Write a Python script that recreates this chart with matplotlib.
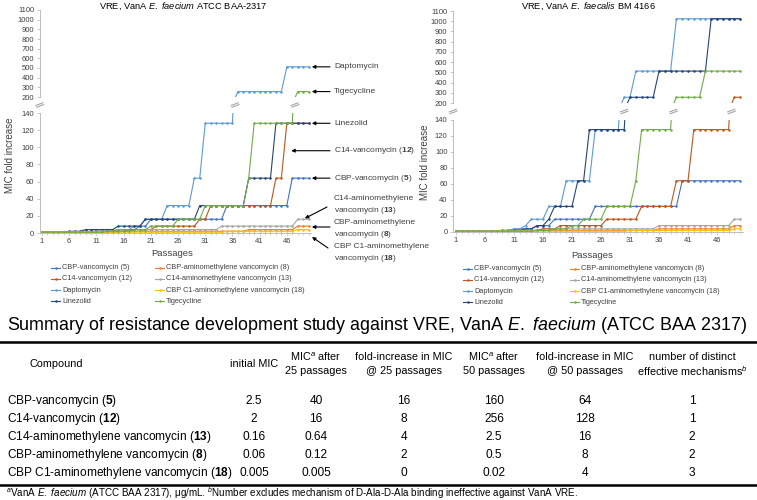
import numpy as np
import matplotlib.pyplot as plt
from matplotlib.lines import Line2D
from matplotlib.patches import FancyArrowPatch

plt.rcParams['font.family'] = ['Liberation Sans', 'DejaVu Sans']
plt.rcParams['mathtext.fontset'] = 'custom'
plt.rcParams['mathtext.rm'] = 'Liberation Sans'
plt.rcParams['mathtext.it'] = 'Liberation Sans:italic'
plt.rcParams['mathtext.bf'] = 'Liberation Sans:bold'

W, H = 757, 500

# ---- chart data ----
passages = list(range(1, 51))
tick_passages = [1, 6, 11, 16, 21, 26, 31, 36, 41, 46]
low_ticks = [0, 20, 40, 60, 80, 100, 120, 140]
up_ticks = [200, 300, 400, 500, 600, 700, 800, 900, 1000, 1100]

series_names = ['CBP-vancomycin (5)', 'C14-vancomycin (12)', 'Daptomycin', 'Linezolid',
                'CBP-aminomethylene vancomycin (8)', 'C14-aminomethylene vancomycin (13)',
                'CBP C1-aminomethylene vancomycin (18)', 'Tigecycline']
series_colors = ['#4472C4', '#C0561A', '#5B9BD5', '#264478',
                 '#ED7D31', '#A5A5A5', '#FFC000', '#70AD47']

# E. faecium ATCC BAA-2317
cbp_vanco_faecium = [1, 1, 1, 1, 1, 1, 1, 1, 1, 2,
                     2, 2, 2, 2, 4, 4, 4, 4, 8, 8,
                     16, 16, 16, 16, 16, 16, 16, 16, 16, 16,
                     16, 16, 16, 16, 32, 32, 32, 32, 32, 32,
                     32, 32, 32, 32, 32, 32, 64, 64, 64, 64]
c14_vanco_faecium = [1, 1, 1, 1, 1, 1, 1, 1, 1, 1,
                     1, 1, 2, 2, 2, 2, 4, 4, 4, 4,
                     4, 8, 8, 8, 8, 8, 8, 8, 8, 16,
                     16, 32, 32, 32, 32, 32, 32, 32, 32, 32,
                     32, 32, 32, 64, 64, 128, 128, 128, 128, 128]
dapto_faecium = [1, 1, 1, 1, 1, 1, 1, 1, 1, 1,
                 2, 2, 2, 2, 4, 4, 4, 8, 8, 16,
                 16, 16, 16, 32, 32, 32, 32, 32, 64, 64,
                 128, 128, 128, 128, 128, 128, 256, 256, 256, 256,
                 256, 256, 256, 256, 256, 512, 512, 512, 512, 512]
linezolid_faecium = [1, 1, 1, 1, 1, 2, 2, 2, 4, 4,
                     4, 4, 4, 4, 8, 8, 8, 8, 8, 16,
                     16, 16, 16, 16, 16, 16, 16, 16, 16, 32,
                     32, 32, 32, 32, 32, 32, 32, 32, 64, 64,
                     64, 64, 64, 128, 128, 128, 128, 128, 128, 128]
cbp_amino_faecium = [1, 1, 1, 1, 1, 1, 1, 1, 1, 1,
                     1, 1, 1, 1, 1, 2, 2, 2, 2, 2,
                     2, 2, 2, 2, 2, 2, 2, 2, 2, 2,
                     2, 2, 2, 2, 2, 2, 2, 2, 4, 4,
                     4, 4, 4, 4, 4, 4, 4, 8, 8, 8]
c14_amino_faecium = [1, 1, 1, 1, 1, 1, 1, 1, 1, 1,
                     2, 2, 2, 2, 2, 2, 2, 2, 2, 4,
                     4, 4, 4, 4, 4, 4, 4, 4, 4, 4,
                     4, 4, 4, 8, 8, 8, 8, 8, 8, 8,
                     8, 8, 8, 8, 8, 8, 8, 16, 16, 16]
cbp_c1_faecium = [1, 1, 1, 1, 1, 1, 1, 1, 1, 1,
                  1, 1, 1, 1, 1, 1, 1, 1, 1, 1,
                  1, 1, 1, 1, 1, 1, 1, 1, 1, 1,
                  1, 1, 1, 1, 2, 2, 2, 2, 2, 2,
                  2, 2, 2, 2, 2, 2, 2, 4, 4, 4]
tige_faecium = [1, 1, 1, 1, 1, 1, 1, 1, 1, 1,
                1, 1, 2, 2, 2, 2, 2, 4, 4, 4,
                8, 8, 8, 8, 8, 16, 16, 16, 16, 16,
                32, 32, 32, 32, 32, 32, 32, 32, 64, 128,
                128, 128, 128, 128, 128, 128, 128, 256, 256, 256]

# E. faecalis BM 4166
cbp_vanco_faecalis = [1, 1, 1, 1, 1, 1, 1, 1, 2, 2,
                      2, 4, 4, 4, 8, 8, 8, 16, 16, 16,
                      16, 16, 16, 16, 32, 32, 32, 32, 32, 32,
                      32, 32, 32, 32, 32, 32, 32, 32, 32, 64,
                      64, 64, 64, 64, 64, 64, 64, 64, 64, 64]
c14_vanco_faecalis = [1, 1, 1, 1, 1, 1, 1, 1, 1, 1,
                      1, 1, 2, 2, 2, 4, 4, 4, 8, 8,
                      8, 8, 8, 8, 8, 8, 16, 16, 16, 16,
                      16, 16, 32, 32, 32, 32, 32, 32, 64, 64,
                      64, 128, 128, 128, 128, 128, 128, 128, 256, 256]
dapto_faecalis = [1, 1, 1, 1, 1, 1, 1, 1, 2, 2,
                  4, 4, 8, 16, 16, 16, 32, 32, 32, 64,
                  64, 64, 64, 64, 128, 128, 128, 128, 128, 256,
                  256, 512, 512, 512, 512, 512, 512, 512, 1024, 1024,
                  1024, 1024, 1024, 1024, 1024, 1024, 1024, 1024, 1024, 1024]
linezolid_faecalis = [1, 1, 1, 1, 1, 1, 1, 1, 1, 1,
                      2, 2, 4, 4, 8, 8, 16, 32, 32, 32,
                      32, 64, 64, 128, 128, 128, 128, 128, 128, 128,
                      256, 256, 256, 256, 256, 512, 512, 512, 512, 512,
                      512, 512, 512, 512, 1024, 1024, 1024, 1024, 1024, 1024]
cbp_amino_faecalis = [1, 1, 1, 1, 1, 1, 1, 1, 1, 1,
                      1, 1, 1, 1, 2, 2, 2, 2, 2, 2,
                      2, 2, 2, 2, 2, 2, 2, 2, 2, 2,
                      2, 2, 2, 2, 2, 4, 4, 4, 4, 4,
                      4, 4, 4, 4, 4, 4, 4, 4, 8, 8]
c14_amino_faecalis = [1, 1, 1, 1, 1, 1, 1, 1, 1, 1,
                      1, 2, 2, 2, 2, 2, 2, 4, 4, 4,
                      4, 4, 4, 4, 4, 4, 4, 4, 4, 4,
                      4, 4, 4, 4, 4, 8, 8, 8, 8, 8,
                      8, 8, 8, 8, 8, 8, 8, 8, 16, 16]
cbp_c1_faecalis = [1, 1, 1, 1, 1, 1, 1, 1, 1, 1,
                   1, 1, 1, 1, 1, 1, 1, 1, 1, 1,
                   1, 1, 1, 1, 1, 1, 1, 1, 1, 1,
                   2, 2, 2, 2, 2, 2, 2, 2, 2, 2,
                   2, 2, 2, 2, 2, 2, 2, 2, 4, 4]
tige_faecalis = [1, 1, 1, 1, 1, 1, 1, 1, 1, 1,
                 1, 1, 1, 1, 2, 2, 2, 4, 4, 4,
                 8, 8, 16, 16, 16, 16, 32, 32, 32, 32,
                 32, 64, 128, 128, 128, 128, 128, 128, 256, 256,
                 256, 256, 256, 512, 512, 512, 512, 512, 512, 512]

faecium_series = [cbp_vanco_faecium, c14_vanco_faecium, dapto_faecium, linezolid_faecium,
                  cbp_amino_faecium, c14_amino_faecium, cbp_c1_faecium, tige_faecium]
faecalis_series = [cbp_vanco_faecalis, c14_vanco_faecalis, dapto_faecalis, linezolid_faecalis,
                   cbp_amino_faecalis, c14_amino_faecalis, cbp_c1_faecalis, tige_faecalis]

# ---- table data ----
compound_names = ['CBP-vancomycin', 'C14-vancomycin', 'C14-aminomethylene vancomycin',
                  'CBP-aminomethylene vancomycin', 'CBP C1-aminomethylene vancomycin']
compound_ids = ['5', '12', '13', '8', '18']
initial_mic = ['2.5', '2', '0.16', '0.06', '0.005']
mic_25 = ['40', '16', '0.64', '0.12', '0.005']
fold_25 = ['16', '8', '4', '2', '0']
mic_50 = ['160', '256', '2.5', '0.5', '0.02']
fold_50 = ['64', '128', '16', '8', '4']
mechanisms = ['1', '1', '2', '2', '3']
table_headers = ['initial MIC', 'MIC$^a$ after\n25 passages', 'fold-increase in MIC\n@ 25 passages',
                 'MIC$^a$ after\n50 passages', 'fold-increase in MIC\n@ 50 passages',
                 'number of distinct\neffective mechanisms$^b$']

axis_grey = '#bfbfbf'
text_grey = '#404040'

fig = plt.figure(figsize=(W / 100, H / 100), dpi=100)


def fpt(x, y):
    # pixel position (top-left origin) -> figure fraction
    return x / W, 1 - y / H


def add_axes_px(left, right, top, bottom):
    return fig.add_axes([left / W, 1 - bottom / H, (right - left) / W, (bottom - top) / H])


def to_fig(ax, x, y):
    return fig.transFigure.inverted().transform(ax.transData.transform((x, y)))


def draw_panel(series, left, right, xlim, low_top, low_bot, up_top, up_bot):
    ax_low = add_axes_px(left, right, low_top, low_bot)
    ax_up = add_axes_px(left, right, up_top, up_bot)
    for ax in (ax_low, ax_up):
        for vals, color in zip(series, series_colors):
            ax.plot(passages, vals, color=color, lw=0.8, marker='o', ms=1.8, mew=0)
        ax.set_xlim(*xlim)
        ax.spines[['top', 'right']].set_visible(False)
        ax.spines['left'].set_color(axis_grey)
        ax.spines['left'].set_linewidth(0.7)
        ax.tick_params(axis='y', labelsize=5.5, length=2, width=0.6, color=axis_grey,
                       labelcolor=text_grey, pad=2)
        ax.patch.set_alpha(0)
    ax_low.set_ylim(0, 140)
    ax_low.set_yticks(low_ticks)
    ax_low.spines['bottom'].set_color(axis_grey)
    ax_low.spines['bottom'].set_linewidth(0.7)
    ax_low.set_xticks(tick_passages)
    ax_low.set_xticks(passages, minor=True)
    ax_low.tick_params(axis='x', which='both', labelsize=5.5, length=2, width=0.5,
                       color=axis_grey, labelcolor=text_grey, pad=1.5)
    ax_low.tick_params(axis='x', which='minor', length=1.5)
    ax_up.set_ylim(200, 1100)
    ax_up.set_yticks(up_ticks)
    ax_up.spines['bottom'].set_visible(False)
    ax_up.set_xticks([])

    # break marks on the axis and where lines jump the gap
    y_mid = (ax_low.get_position().y1 + ax_up.get_position().y0) / 2
    crossings = []
    for vals in series:
        for i in range(len(vals) - 1):
            if vals[i] <= 140 < vals[i + 1]:
                crossings.append(passages[i] + 0.5)
    crossings.sort()
    groups = []
    for c in crossings:
        if groups and c - groups[-1][-1] < 1.5:
            groups[-1].append(c)
        else:
            groups.append([c])
    xs = [ax_low.get_position().x0] + [to_fig(ax_low, np.mean(g), 0)[0] for g in groups]
    for xf in xs:
        bx = [xf - 4 / W, xf + 4 / W]
        by = [y_mid - 1.5 / H, y_mid + 1.5 / H]
        fig.add_artist(Line2D(bx, by, color='#a6a6a6', lw=2.2, solid_capstyle='butt'))
        fig.add_artist(Line2D(bx, by, color='white', lw=0.6))
    return ax_low, ax_up


def draw_legend(col_x, row_y):
    for k, (name, color) in enumerate(zip(series_names, series_colors)):
        col, row = divmod(k, 4)
        x0 = col_x[col]
        y = row_y + row * 11.3
        fig.add_artist(Line2D([x0 / W, (x0 + 9) / W], [1 - y / H] * 2, color=color, lw=0.8))
        fig.add_artist(Line2D([(x0 + 4.5) / W], [1 - y / H], color=color, marker='o', ms=1.8, mew=0))
        fig.text((x0 + 11) / W, 1 - y / H, name, fontsize=5.3, va='center', color=text_grey)


def arrow(tail, head):
    fig.add_artist(FancyArrowPatch(tail, head, transform=fig.transFigure, arrowstyle='-|>',
                                   mutation_scale=5, lw=0.8, color='black',
                                   shrinkA=0, shrinkB=0))


# ---- left panel: E. faecium ----
lo_L, up_L = draw_panel(faecium_series, 39.8, 311.3, (0.6, 50.5), 113, 233, 10, 97)
fig.text(*fpt(183, 6), 'VRE, VanA $\\mathit{E.}$ $\\mathit{faecium}$ ATCC BAA-2317', fontsize=6.7,
         ha='center', va='center')
fig.text(*fpt(10, 155), 'MIC fold increase', fontsize=7, rotation=90, ha='center', va='center',
         color=text_grey)
fig.text(*fpt(172, 254), 'Passages', fontsize=6.8, ha='center', va='center', color=text_grey)

ann_x = 334 / W
tail_x = 330 / W
for ax, vals, label in [(up_L, dapto_faecium, 'Daptomycin'),
                        (up_L, tige_faecium, 'Tigecycline'),
                        (lo_L, linezolid_faecium, 'Linezolid'),
                        (lo_L, cbp_vanco_faecium, 'CBP-vancomycin ($\\mathbf{5}$)')]:
    hx, hy = to_fig(ax, 50.6, vals[-1])
    arrow((tail_x, hy), (hx, hy))
    fig.text(ann_x, hy, label, fontsize=6, va='center', color=text_grey)

hx, hy = to_fig(lo_L, 46.8, 96)
arrow((tail_x, hy), (hx, hy))
fig.text(ann_x, hy, 'C14-vancomycin ($\\mathbf{12}$)', fontsize=6, va='center', color=text_grey)

hx, hy = to_fig(lo_L, 49.3, c14_amino_faecium[-1] + 1)
arrow(fpt(327, 207), (hx, hy))
fig.text(*fpt(334, 199), 'C14-aminomethylene', fontsize=6, va='center', color=text_grey)
fig.text(*fpt(334, 211), 'vancomycin ($\\mathbf{13}$)', fontsize=6, va='center', color=text_grey)

hx, hy = to_fig(lo_L, 50.6, 7)
arrow((tail_x, hy), (hx, hy))
fig.text(*fpt(334, 223), 'CBP-aminomethylene', fontsize=6, va='center', color=text_grey)
fig.text(*fpt(334, 235), 'vancomycin ($\\mathbf{8}$)', fontsize=6, va='center', color=text_grey)

arrow(fpt(328, 248), fpt(312, 237))
fig.text(*fpt(334, 247), 'CBP C1-aminomethylene', fontsize=6, va='center', color=text_grey)
fig.text(*fpt(334, 259), 'vancomycin ($\\mathbf{18}$)', fontsize=6, va='center', color=text_grey)

draw_legend([51, 155], 267.5)

# ---- right panel: E. faecalis ----
lo_R, up_R = draw_panel(faecalis_series, 453.1, 743.1, (0.5, 50.5), 120, 232, 11, 103)
fig.text(*fpt(588, 6), 'VRE, VanA $\\mathit{E.}$ $\\mathit{faecalis}$ BM 4166', fontsize=6.7,
         ha='center', va='center')
fig.text(*fpt(425, 162), 'MIC fold increase', fontsize=7, rotation=90, ha='center', va='center',
         color=text_grey)
fig.text(*fpt(592, 256), 'Passages', fontsize=6.8, ha='center', va='center', color=text_grey)
draw_legend([463, 570], 268.5)

# ---- summary table ----
fig.text(*fpt(7, 325), 'Summary of resistance development study against VRE, VanA '
         '$\\mathit{E.}$ $\\mathit{faecium}$ (ATCC BAA 2317)', fontsize=12.9, va='center')
fig.add_artist(Line2D([0, 1], [1 - 342 / H] * 2, color='black', lw=1.8))
fig.add_artist(Line2D([0, 1], [1 - 485 / H] * 2, color='black', lw=1.8))

col_x = [254, 316, 404, 494, 585, 692]
fig.text(*fpt(29, 364), 'Compound', fontsize=7.8, va='center')
for cx, head in zip(col_x, table_headers):
    lines = head.split('\n')
    if len(lines) == 1:
        fig.text(*fpt(cx, 364), lines[0], fontsize=7.8, ha='center', va='center')
    else:
        fig.text(*fpt(cx, 357), lines[0], fontsize=7.8, ha='center', va='center')
        fig.text(*fpt(cx, 371), lines[1], fontsize=7.8, ha='center', va='center')

row_y = [401, 419, 437, 455, 473]
for i, ry in enumerate(row_y):
    fig.text(*fpt(7, ry), compound_names[i] + ' ($\\mathbf{' + compound_ids[i] + '}$)',
             fontsize=8.55, va='center')
    for cx, col in zip(col_x, [initial_mic, mic_25, fold_25, mic_50, fold_50, mechanisms]):
        fig.text(*fpt(cx, ry), col[i], fontsize=8.55, ha='center', va='center')

fig.text(*fpt(6, 493), '$^a$VanA $\\mathit{E.}$ $\\mathit{faecium}$ (ATCC BAA 2317), \u03bcg/mL. '
         '$^b$Number excludes mechanism of D-Ala-D-Ala binding ineffective against VanA VRE.',
         fontsize=7.1, va='center')

fig.savefig('out.png', dpi=100)
